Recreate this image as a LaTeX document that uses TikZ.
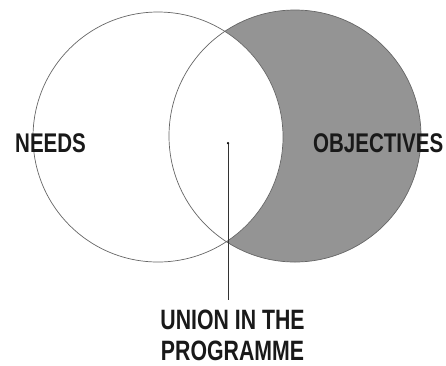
\documentclass[tikz,border=0pt]{standalone}
\usepackage{fontspec}
\newfontfamily\labfont{Liberation Sans}[FakeStretch=0.76]
\begin{document}
\begin{tikzpicture}[x=1pt,y=-1pt,
  venn/.style={circle, minimum size=250pt, inner sep=0pt, draw=black!60, line width=0.7pt},
  lab/.style={font=\labfont\bfseries\fontsize{27}{31}\selectfont, text=black!90, inner sep=0pt},
  pin/.style={draw=black!80, line width=0.6pt}]
\useasboundingbox (0,0) rectangle (446,365);
% shaded crescent: objectives minus needs
\fill[black!42] (295,136) circle[radius=126pt];
\fill[white] (158,137) circle[radius=125pt];
\node[venn] (needs) at (158,137) {};
\node[venn, minimum size=252pt] (objectives) at (295,136) {};
\node[lab, anchor=base west] (needslab) at (15,152) {NEEDS};
\node[lab, anchor=base west] (objlab) at (313,152) {OBJECTIVES};
\node[circle, fill=black, inner sep=0pt, minimum size=2.5pt] (dot) at (228,143) {};
\node[lab, anchor=base, align=center, font=\labfont\bfseries\fontsize{28}{31}\selectfont] (union) at (232.5,360) {UNION IN THE\\PROGRAMME};
\coordinate (lineend) at (228,300);
\draw[pin] (dot) -- (lineend);
\end{tikzpicture}
\end{document}
